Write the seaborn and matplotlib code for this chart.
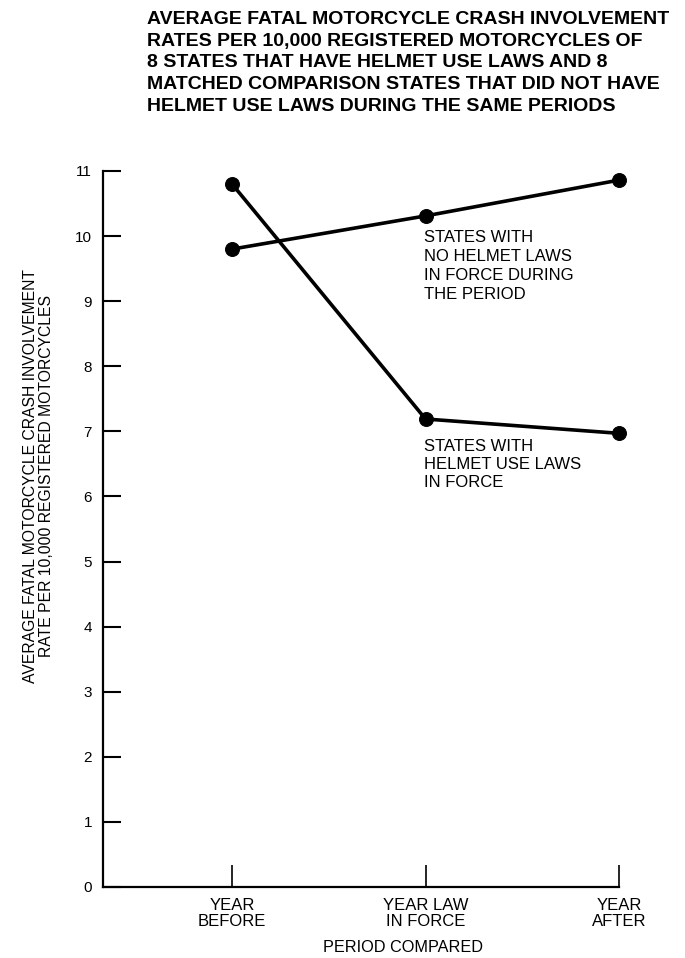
import numpy as np
import pandas as pd
import seaborn as sns
import matplotlib.pyplot as plt

# ---------------- data ----------------
periods = ["YEAR\nBEFORE", "YEAR LAW\nIN FORCE", "YEAR\nAFTER"]
period_pos = [0, 1, 2]
helmet_laws = [10.80, 7.19, 6.97]
no_helmet_laws = [9.80, 10.31, 10.86]

sns.set_style("ticks")
plt.rcParams["font.family"] = ["Liberation Sans", "DejaVu Sans"]
plt.rcParams["text.color"] = "black"
plt.rcParams["axes.labelcolor"] = "black"
plt.rcParams["xtick.color"] = "black"
plt.rcParams["ytick.color"] = "black"

fig = plt.figure(figsize=(6.85, 9.58), dpi=100)
# axes box: left spine x=103px, right end x=619px, bottom y=887px, top (11) y=171px
ax = fig.add_axes([103 / 685, 1 - 887 / 958, 516 / 685, 716 / 958])

df = pd.DataFrame({
    "pos": period_pos * 2,
    "rate": helmet_laws + no_helmet_laws,
    "group": ["helmet"] * 3 + ["none"] * 3,
})

sns.lineplot(data=df, x="pos", y="rate", hue="group", palette=["black", "black"],
             marker="o", markersize=10, markeredgecolor="black", linewidth=2.6,
             legend=False, ax=ax, clip_on=False)

ax.set_xlim(-0.667, 2.0)
ax.set_ylim(0, 11)
ax.set_yticks(range(0, 12))
ax.set_xticks(period_pos)
ax.set_xticklabels(periods, fontsize=12, linespacing=1.1)
ax.tick_params(axis="y", direction="in", length=13, width=1.5, labelsize=11, pad=8)
ax.tick_params(axis="x", direction="in", length=16, width=1.2, pad=8)
for s in ["top", "right"]:
    ax.spines[s].set_visible(False)
for s in ["left", "bottom"]:
    ax.spines[s].set_linewidth(1.6)
    ax.spines[s].set_color("black")

ax.set_xlabel("PERIOD COMPARED", fontsize=11.7)
ax.xaxis.set_label_coords(0.581, (887 - 948) / 716, transform=ax.transAxes)
ax.xaxis.label.set_va("center")
ax.set_ylabel("AVERAGE FATAL MOTORCYCLE CRASH INVOLVEMENT\nRATE PER 10,000 REGISTERED MOTORCYCLES",
              fontsize=11.3, linespacing=1.05)
ax.yaxis.set_label_coords(-(103 - 54) / 516, (887 - 476) / 716)

ax.text(0.99, 10.09, "STATES WITH\nNO HELMET LAWS\nIN FORCE DURING\nTHE PERIOD",
        fontsize=12, va="top", ha="left", linespacing=1.33)
ax.text(0.99, 6.88, "STATES WITH\nHELMET USE LAWS\nIN FORCE",
        fontsize=12, va="top", ha="left", linespacing=1.25)

fig.text(147 / 685, 1 - 11 / 958,
         "AVERAGE FATAL MOTORCYCLE CRASH INVOLVEMENT\n"
         "RATES PER 10,000 REGISTERED MOTORCYCLES OF\n"
         "8 STATES THAT HAVE HELMET USE LAWS AND 8\n"
         "MATCHED COMPARISON STATES THAT DID NOT HAVE\n"
         "HELMET USE LAWS DURING THE SAME PERIODS",
         fontsize=14, fontweight="bold", va="top", ha="left", linespacing=1.36)

fig.savefig("out.png", dpi=100)
